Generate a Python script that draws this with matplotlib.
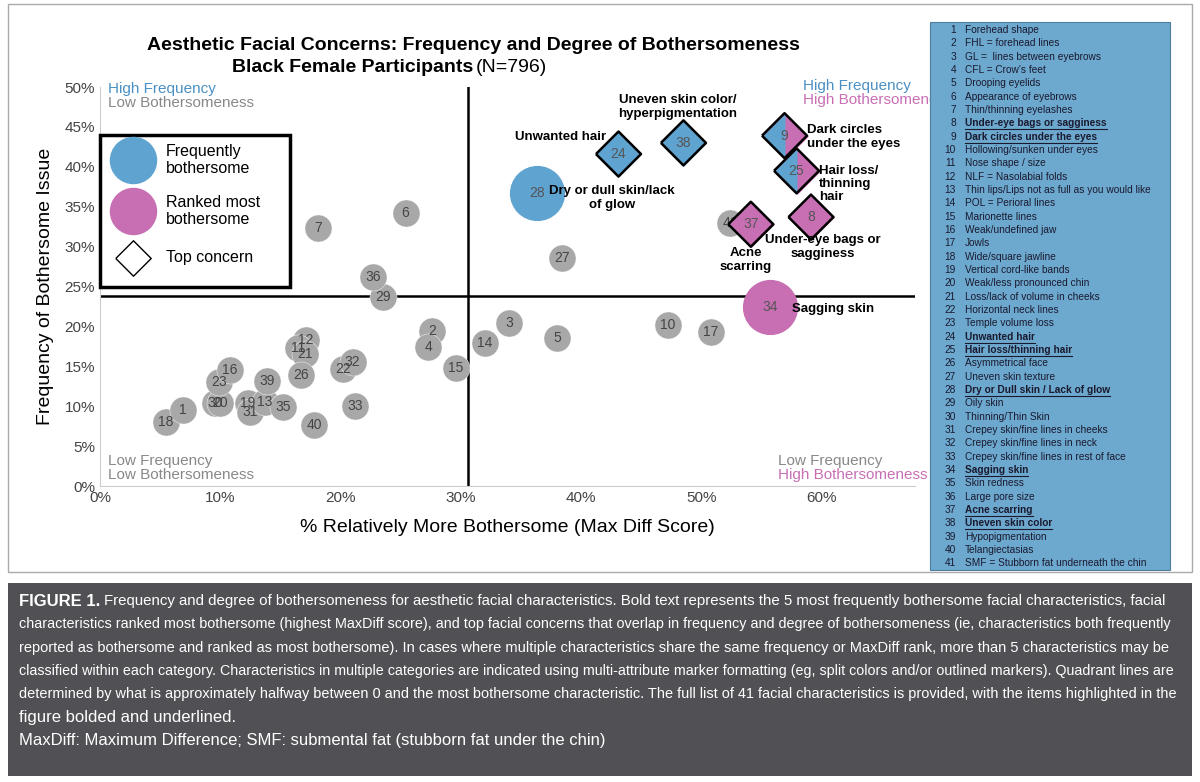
import matplotlib.pyplot as plt
from matplotlib.patches import Rectangle
from matplotlib.path import Path

# characteristic number, % relatively more bothersome (MaxDiff), frequency %
ids = [18, 1, 30, 20, 23, 16, 19, 31, 13, 35, 39, 40, 12, 11, 21, 26, 22, 32, 33,
       2, 4, 15, 14, 3, 29, 36, 7, 6, 27, 5, 10, 17, 41]
maxdiff = [5.5, 6.9, 9.6, 10.0, 9.9, 10.8, 12.3, 12.5, 13.7, 15.2, 13.9, 17.8, 17.1, 16.5, 17.0, 16.7,
           20.2, 21.0, 21.2, 27.6, 27.3, 29.6, 32.0, 34.0, 23.5, 22.7, 18.1, 25.4, 38.4, 38.0, 47.2, 50.8, 52.4]
freq = [8.0, 9.5, 10.4, 10.4, 13.0, 14.5, 10.4, 9.3, 10.5, 9.9, 13.2, 7.6, 18.3, 17.3, 16.6, 13.9,
        14.7, 15.5, 10.0, 19.4, 17.4, 14.8, 17.9, 20.4, 23.7, 26.2, 32.3, 34.2, 28.6, 18.5, 20.2, 19.3, 33.0]

# highlighted items
hl_ids = [28, 34, 24, 38, 37, 8, 9, 25]
hl_x = [36.3, 55.7, 43.1, 48.5, 54.1, 59.1, 56.9, 57.9]
hl_y = [36.7, 22.4, 41.6, 43.0, 32.8, 33.7, 43.9, 39.5]
hl_kind = ['freq', 'rank', 'freq_d', 'freq_d', 'rank_d', 'rank_d', 'both_d', 'both_d']

items = ["Forehead shape", "FHL = forehead lines", "GL =  lines between eyebrows", "CFL = Crow's feet",
         "Drooping eyelids", "Appearance of eyebrows", "Thin/thinning eyelashes", "Under-eye bags or sagginess",
         "Dark circles under the eyes", "Hollowing/sunken under eyes", "Nose shape / size",
         "NLF = Nasolabial folds", "Thin lips/Lips not as full as you would like", "POL = Perioral lines",
         "Marionette lines", "Weak/undefined jaw", "Jowls", "Wide/square jawline", "Vertical cord-like bands",
         "Weak/less pronounced chin", "Loss/lack of volume in cheeks", "Horizontal neck lines",
         "Temple volume loss", "Unwanted hair", "Hair loss/thinning hair", "Asymmetrical face",
         "Uneven skin texture", "Dry or Dull skin / Lack of glow", "Oily skin", "Thinning/Thin Skin",
         "Crepey skin/fine lines in cheeks", "Crepey skin/fine lines in neck", "Crepey skin/fine lines in rest of face",
         "Sagging skin", "Skin redness", "Large pore size", "Acne scarring", "Uneven skin color",
         "Hypopigmentation", "Telangiectasias", "SMF = Stubborn fat underneath the chin"]
bold_items = [8, 9, 24, 25, 28, 34, 37, 38]

BLUE = '#5fa4d0'
PINK = '#c86fb4'
GRAY = '#a8a8a8'
W, H = 1200, 782

plt.rcParams['font.family'] = ['Liberation Sans', 'DejaVu Sans']
fig = plt.figure(figsize=(12, 7.82), dpi=100)
renderer = fig.canvas.get_renderer()

def fx(px): return px / W
def fy(py): return 1 - py / H
# pixel -> data helpers for the main axes
def dx(px): return (px - 100) / 12.03
def dy(py): return (486 - py) / 7.98

ax = fig.add_axes([fx(100), fy(486), (915 - 100) / W, (486 - 87) / H])
ax.set_xlim(0, dx(915))
ax.set_ylim(0, 50)
ax.set_xticks(range(0, 61, 10))
ax.set_xticklabels([f'{t}%' for t in range(0, 61, 10)])
ax.set_yticks(range(0, 51, 5))
ax.set_yticklabels([f'{t}%' for t in range(0, 51, 5)])
ax.tick_params(labelsize=11, colors='#444444', length=0)
for s in ['top', 'right']:
    ax.spines[s].set_visible(False)
ax.spines['left'].set_color('#cccccc')
ax.spines['bottom'].set_color('#cccccc')
ax.set_xlabel('% Relatively More Bothersome (Max Diff Score)', fontsize=14, labelpad=10)
ax.set_ylabel('Frequency of Bothersome Issue', fontsize=14, labelpad=8)

ax.axvline(30.6, color='black', lw=1.8, zorder=1)
ax.axhline(23.8, color='black', lw=1.8, zorder=1)

ax.scatter(maxdiff, freq, s=380, color=GRAY, edgecolor='white', lw=0.3, zorder=3)
for i, x, y in zip(ids, maxdiff, freq):
    ax.text(x, y, str(i), ha='center', va='center', fontsize=10, color='#444444', zorder=4)

diamond = Path([(-1, 0), (0, 1), (1, 0), (0, -1), (-1, 0)])
left_half = Path([(0, 1), (-1, 0), (0, -1), (0, 1)])
for i, x, y, k in zip(hl_ids, hl_x, hl_y, hl_kind):
    if k == 'freq':
        ax.scatter(x, y, s=1500, color=BLUE, zorder=3)
    elif k == 'rank':
        ax.scatter(x, y, s=1500, color=PINK, zorder=3)
    else:
        base = BLUE if k == 'freq_d' else PINK
        ax.scatter(x, y, s=1050, marker=diamond, color=base, zorder=5)
        if k == 'both_d':
            ax.scatter(x, y, s=1050, marker=left_half, color=BLUE, lw=0, zorder=5)
        ax.scatter(x, y, s=1050, marker=diamond, facecolor='none', edgecolor='black', lw=1.8, zorder=6)
    ax.text(x, y, str(i), ha='center', va='center', fontsize=10, color='#555555', zorder=7)

bkw = dict(fontsize=9.5, fontweight='bold', zorder=8, linespacing=1.15)
ax.text(dx(678), dy(107), 'Uneven skin color/\nhyperpigmentation', ha='center', va='center', **bkw)
ax.text(dx(561), dy(137), 'Unwanted hair', ha='center', va='center', **bkw)
ax.text(dx(612), dy(198), 'Dry or dull skin/lack\nof glow', ha='center', va='center', **bkw)
ax.text(dx(807), dy(137), 'Dark circles\nunder the eyes', ha='left', va='center', **bkw)
ax.text(dx(819), dy(184), 'Hair loss/\nthinning\nhair', ha='left', va='center', **bkw)
ax.text(dx(823), dy(247), 'Under-eye bags or\nsagginess', ha='center', va='center', **bkw)
ax.text(dx(746), dy(260), 'Acne\nscarring', ha='center', va='center', **bkw)
ax.text(dx(792), dy(309), 'Sagging skin', ha='left', va='center', **bkw)

ckw = dict(fontsize=11, zorder=8, va='center')
ax.text(dx(108), dy(89), 'High Frequency', color='#4a90c4', **ckw)
ax.text(dx(108), dy(103), 'Low Bothersomeness', color='#888888', **ckw)
ax.text(dx(803), dy(86), 'High Frequency', color='#4a90c4', **ckw)
ax.text(dx(803), dy(100), 'High Bothersomeness', color=PINK, **ckw)
ax.text(dx(108), dy(461), 'Low Frequency', color='#888888', **ckw)
ax.text(dx(108), dy(475), 'Low Bothersomeness', color='#888888', **ckw)
ax.text(dx(778), dy(461), 'Low Frequency', color='#888888', **ckw)
ax.text(dx(778), dy(475), 'High Bothersomeness', color=PINK, **ckw)

# legend box
fig.patches.append(Rectangle((fx(100), fy(287)), 190 / W, 152 / H, transform=fig.transFigure,
                             facecolor='white', edgecolor='black', lw=2.5, zorder=10))
lax = fig.add_axes([fx(100), fy(287), 190 / W, 152 / H], zorder=11)
lax.set_xlim(0, 190)
lax.set_ylim(152, 0)
lax.axis('off')
lax.scatter(33, 25, s=1100, color=BLUE)
lax.scatter(33, 76, s=1100, color=PINK)
lax.scatter(33, 123, s=650, marker=diamond, facecolor='white', edgecolor='black', lw=1)
lax.text(66, 25, 'Frequently\nbothersome', fontsize=11.5, va='center')
lax.text(66, 76, 'Ranked most\nbothersome', fontsize=11.5, va='center')
lax.text(66, 123, 'Top concern', fontsize=11.5, va='center')

fig.text(fx(473), fy(45), 'Aesthetic Facial Concerns: Frequency and Degree of Bothersomeness',
         fontsize=14, fontweight='bold', ha='center', va='center')
fig.text(fx(473), fy(68), 'Black Female Participants', fontsize=14, fontweight='bold', ha='right', va='center')
fig.text(fx(476), fy(68), '(N=796)', fontsize=14, ha='left', va='center')

# frame around the chart
fig.patches.append(Rectangle((fx(8), fy(572)), 1184 / W, 568 / H, transform=fig.transFigure,
                             facecolor='none', edgecolor='#aaaaaa', lw=1))

# item list panel
fig.patches.append(Rectangle((fx(930), fy(570)), 240 / W, 548 / H, transform=fig.transFigure,
                             facecolor='#6da8cf', edgecolor='#4f7f9f', lw=0.8))
for n, name in enumerate(items, start=1):
    py = 30 + (n - 1) * 13.33
    b = n in bold_items
    fig.text(fx(956), fy(py), str(n), fontsize=7.3, ha='right', va='center', color='#1a1a2e')
    t = fig.text(fx(965), fy(py), name, fontsize=7.3, va='center', color='#1a1a2e',
                 fontweight='bold' if b else 'normal')
    if b:
        w = t.get_window_extent(renderer).width
        fig.add_artist(plt.Line2D([fx(965), fx(965 + w)], [fy(py + 6), fy(py + 6)], color='#1a1a2e', lw=0.8))

# caption
fig.patches.append(Rectangle((fx(8), fy(776)), 1184 / W, 193 / H, transform=fig.transFigure,
                             facecolor='#515155', edgecolor='none'))
cap = ["Frequency and degree of bothersomeness for aesthetic facial characteristics. Bold text represents the 5 most frequently bothersome facial characteristics, facial",
       "characteristics ranked most bothersome (highest MaxDiff score), and top facial concerns that overlap in frequency and degree of bothersomeness (ie, characteristics both frequently",
       "reported as bothersome and ranked as most bothersome). In cases where multiple characteristics share the same frequency or MaxDiff rank, more than 5 characteristics may be",
       "classified within each category. Characteristics in multiple categories are indicated using multi-attribute marker formatting (eg, split colors and/or outlined markers). Quadrant lines are",
       "determined by what is approximately halfway between 0 and the most bothersome characteristic. The full list of 41 facial characteristics is provided, with the items highlighted in the",
       "figure bolded and underlined.",
       "MaxDiff: Maximum Difference; SMF: submental fat (stubborn fat under the chin)"]
cap_size = 12
for k, line in enumerate(cap):
    py = 601 + k * 23.3
    x0 = 19
    if k == 0:
        lab = fig.text(fx(x0), fy(py), 'FIGURE 1.', fontsize=cap_size, fontweight='bold', color='white',
                       va='center')
        x0 += lab.get_window_extent(renderer).width + 4
    t = fig.text(fx(x0), fy(py), line, fontsize=cap_size, color='white', va='center')
    if k <= 4:
        # shrink full lines so they fit the caption width
        w = t.get_window_extent(renderer).width
        avail = 1170 - x0
        if w > avail:
            t.set_fontsize(cap_size * avail / w)

fig.savefig('out.png', dpi=100)
